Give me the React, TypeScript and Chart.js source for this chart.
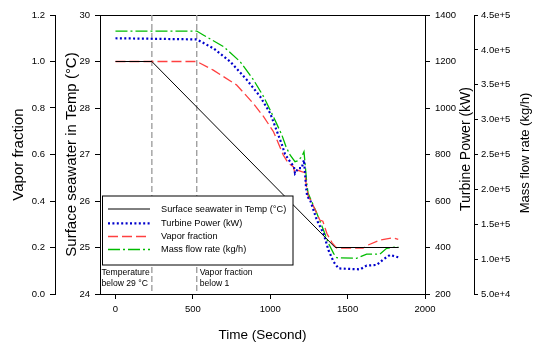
import React, { useEffect, useRef } from "react";
import { Chart, registerables } from "chart.js";

Chart.register(...registerables);

const FONT = "'Liberation Sans', Arial, sans-serif";

// ---- data ----
const tempTime = [0, 235, 1420, 1830];
const tempValues = [29, 29, 25, 25];

const powerTime = [0, 525, 632, 742, 850, 935, 1000, 1074, 1095, 1128, 1153, 1160, 1181, 1203, 1218, 1225, 1231, 1239, 1258, 1301, 1344, 1376, 1409, 1441, 1580, 1623, 1688, 1731, 1774, 1827];
const powerValues = [1300, 1295, 1257, 1199, 1120, 1049, 977, 845, 802, 769, 748, 719, 741, 741, 776, 719, 662, 619, 604, 518, 461, 389, 339, 310, 306, 322, 325, 349, 368, 358];

const vaporTime = [0, 525, 632, 783, 890, 957, 1021, 1084, 1117, 1149, 1160, 1175, 1203, 1225, 1231, 1246, 1261, 1301, 1320, 1340, 1366, 1400, 1430, 1600, 1623, 1709, 1795, 1827];
const vaporValues = [1.0, 1.0, 0.963, 0.899, 0.82, 0.763, 0.698, 0.598, 0.562, 0.548, 0.519, 0.533, 0.526, 0.522, 0.477, 0.419, 0.404, 0.347, 0.318, 0.313, 0.26, 0.22, 0.197, 0.197, 0.208, 0.232, 0.242, 0.235];

const massTime = [0, 525, 570, 699, 806, 892, 957, 1021, 1075, 1102, 1128, 1160, 1179, 1203, 1218, 1225, 1236, 1244, 1301, 1344, 1376, 1410, 1430, 1558, 1623, 1709, 1752, 1827];
const massValues = [427000, 427000, 421000, 404500, 383000, 357000, 333000, 304000, 278000, 261000, 249300, 239700, 241100, 246800, 254000, 237400, 209100, 194800, 165700, 141800, 122700, 108000, 102000, 101200, 107300, 107300, 115500, 117800];

const xTicks = [0, 500, 1000, 1500, 2000];
const vaporTicks = [0, 0.2, 0.4, 0.6, 0.8, 1.0, 1.2];
const tempTicks = [24, 25, 26, 27, 28, 29, 30];
const powerTicks = [200, 400, 600, 800, 1000, 1200, 1400];
const massTicks = [50000, 100000, 150000, 200000, 250000, 300000, 350000, 400000, 450000];

const markerTimes = [235, 525];
const markerTexts = [
  ["Temperature", "below 29 °C"],
  ["Vapor fraction", "below 1"],
];

const seriesLabels = [
  "Surface seawater in Temp (°C)",
  "Turbine Power (kW)",
  "Vapor fraction",
  "Mass flow rate (kg/h)",
];

const mk = (ts: number[], vs: number[]) => ts.map((t, i) => ({ x: t, y: vs[i] }));
const setTicks = (arr: number[]) => (s: any) => {
  s.ticks = arr.map((v) => ({ value: v }));
};
const plain = (v: any) => String(Number(v));

const tickFont = { family: FONT, size: 9.5 };

const overlayPlugin = {
  id: "overlay",
  beforeDatasetsDraw(chart: any) {
    const { ctx, chartArea, scales } = chart;
    ctx.save();
    // top border
    ctx.strokeStyle = "#000";
    ctx.lineWidth = 1;
    ctx.beginPath();
    ctx.moveTo(chartArea.left, Math.round(chartArea.top) + 0.5);
    ctx.lineTo(chartArea.right, Math.round(chartArea.top) + 0.5);
    ctx.stroke();
    // marker dashed lines
    ctx.strokeStyle = "#a0a0a0";
    ctx.lineWidth = 1.4;
    ctx.setLineDash([6, 3]);
    markerTimes.forEach((t) => {
      const x = scales.x.getPixelForValue(t);
      ctx.beginPath();
      ctx.moveTo(x, chartArea.top);
      ctx.lineTo(x, chartArea.bottom);
      ctx.stroke();
    });
    ctx.restore();
  },
  afterDatasetsDraw(chart: any) {
    const { ctx, chartArea, scales } = chart;
    ctx.save();
    // legend box
    const lx = chartArea.left + 2.5;
    const ly = chartArea.bottom - 98;
    const lw = 190.5;
    const lh = 69;
    ctx.fillStyle = "#fff";
    ctx.fillRect(lx, ly, lw, lh);
    ctx.strokeStyle = "#000";
    ctx.lineWidth = 1;
    ctx.setLineDash([]);
    ctx.strokeRect(lx, ly, lw, lh);
    const rows = [13, 27.3, 40.5, 53.5];
    chart.data.datasets.forEach((ds: any, i: number) => {
      const y = ly + rows[i];
      ctx.save();
      ctx.strokeStyle = ds.borderColor;
      ctx.lineWidth = ds.borderWidth;
      ctx.setLineDash(ds.borderDash || []);
      ctx.beginPath();
      ctx.moveTo(lx + 5.5, y);
      ctx.lineTo(lx + 47.5, y);
      ctx.stroke();
      ctx.restore();
      ctx.fillStyle = "#000";
      ctx.font = `9.2px ${FONT}`;
      ctx.textBaseline = "middle";
      ctx.textAlign = "left";
      ctx.fillText(ds.label, lx + 58.5, y);
    });
    // marker annotations
    ctx.font = `8.6px ${FONT}`;
    ctx.fillStyle = "#000";
    ctx.textBaseline = "middle";
    ctx.textAlign = "left";
    const x1 = chartArea.left + 1.5;
    const x2 = scales.x.getPixelForValue(markerTimes[1]) + 3;
    [x1, x2].forEach((x, i) => {
      ctx.fillText(markerTexts[i][0], x, chartArea.bottom - 21);
      ctx.fillText(markerTexts[i][1], x, chartArea.bottom - 10.5);
    });
    ctx.restore();
  },
  afterDraw(chart: any) {
    const { ctx } = chart;
    ctx.save();
    ctx.fillStyle = "#000";
    ctx.textAlign = "center";
    ctx.textBaseline = "middle";
    const drawRot = (text: string, x: number, y: number, size: number) => {
      ctx.save();
      ctx.translate(x, y);
      ctx.rotate(-Math.PI / 2);
      ctx.font = `${size}px ${FONT}`;
      ctx.fillText(text, 0, 0);
      ctx.restore();
    };
    drawRot("Turbine Power (kW)", 466, 149, 14);
    drawRot("Mass flow rate (kg/h)", 525, 153, 13);
    ctx.restore();
  },
};

export default function App() {
  const ref = useRef<HTMLCanvasElement>(null);
  useEffect(() => {
    if (!ref.current) return;
    const chart = new Chart(ref.current, {
      type: "line",
      data: {
        datasets: [
          {
            label: seriesLabels[0],
            data: mk(tempTime, tempValues),
            yAxisID: "yT",
            borderColor: "#000000",
            borderWidth: 1,
            pointRadius: 0,
            fill: false,
          },
          {
            label: seriesLabels[1],
            data: mk(powerTime, powerValues),
            yAxisID: "yP",
            borderColor: "#0000cc",
            borderWidth: 2.2,
            borderDash: [2, 2.4],
            pointRadius: 0,
            fill: false,
          },
          {
            label: seriesLabels[2],
            data: mk(vaporTime, vaporValues),
            yAxisID: "yV",
            borderColor: "#ff4040",
            borderWidth: 1.3,
            borderDash: [10, 4],
            pointRadius: 0,
            fill: false,
          },
          {
            label: seriesLabels[3],
            data: mk(massTime, massValues),
            yAxisID: "yM",
            borderColor: "#00bb00",
            borderWidth: 1.3,
            borderDash: [12, 3, 2, 3],
            pointRadius: 0,
            fill: false,
          },
        ] as any,
      },
      options: {
        responsive: false,
        animation: false,
        devicePixelRatio: 1,
        layout: { padding: { top: 15, left: 0, right: 0, bottom: 0 } },
        plugins: { legend: { display: false }, tooltip: { enabled: false } },
        scales: {
          x: {
            type: "linear",
            position: "bottom",
            min: -100,
            max: 2000,
            afterBuildTicks: setTicks(xTicks),
            afterFit: (s: any) => {
              s.height = 50;
            },
            ticks: { font: tickFont, color: "#000", padding: 5, maxRotation: 0, autoSkip: false, callback: plain },
            grid: { drawOnChartArea: false, tickLength: 5, color: "#000" },
            border: { display: true, color: "#000" },
            title: {
              display: true,
              text: "Time (Second)",
              color: "#000",
              font: { family: FONT, size: 13.5 },
              padding: { top: 0, bottom: 1 },
            },
          },
          yV: {
            type: "linear",
            position: "left",
            weight: 2,
            min: 0,
            max: 1.2,
            afterBuildTicks: setTicks(vaporTicks),
            afterFit: (s: any) => {
              s.width = 55;
            },
            ticks: { font: tickFont, color: "#000", padding: 5, callback: (v: any) => Number(v).toFixed(1) },
            grid: { drawOnChartArea: false, tickLength: 5, color: "#000" },
            border: { display: true, color: "#000" },
            title: {
              display: true,
              text: "Vapor fraction",
              color: "#000",
              font: { family: FONT, size: 15 },
              padding: { top: 10, bottom: 0 },
            },
          },
          yT: {
            type: "linear",
            position: "left",
            weight: 1,
            min: 24,
            max: 30,
            afterBuildTicks: setTicks(tempTicks),
            afterFit: (s: any) => {
              s.width = 45;
            },
            ticks: { font: tickFont, color: "#000", padding: 5, callback: plain },
            grid: { drawOnChartArea: false, tickLength: 5, color: "#000" },
            border: { display: true, color: "#000" },
            title: {
              display: true,
              text: "Surface seawater in Temp (°C)",
              color: "#000",
              font: { family: FONT, size: 15 },
              padding: { top: 7.5, bottom: 0 },
            },
          },
          yP: {
            type: "linear",
            position: "right",
            weight: 1,
            min: 200,
            max: 1400,
            afterBuildTicks: setTicks(powerTicks),
            afterFit: (s: any) => {
              s.width = 49;
            },
            ticks: { font: tickFont, color: "#000", padding: 5, callback: plain },
            grid: { drawOnChartArea: false, tickLength: 5, color: "#000" },
            border: { display: true, color: "#000" },
          },
          yM: {
            type: "linear",
            position: "right",
            weight: 2,
            min: 50000,
            max: 450000,
            afterBuildTicks: setTicks(massTicks),
            afterFit: (s: any) => {
              s.width = 72;
            },
            ticks: {
              font: tickFont,
              color: "#000",
              padding: 3,
              callback: (v: any) => Number(v).toExponential(1),
            },
            grid: { drawOnChartArea: false, tickLength: 4, color: "#000" },
            border: { display: true, color: "#000" },
          },
        },
      } as any,
      plugins: [overlayPlugin],
    });
    return () => chart.destroy();
  }, []);
  return (
    <div style={{ position: "absolute", left: 0, top: 0, width: 546, height: 344, background: "#fff" }}>
      <canvas ref={ref} width={546} height={344} style={{ display: "block" }} />
    </div>
  );
}
